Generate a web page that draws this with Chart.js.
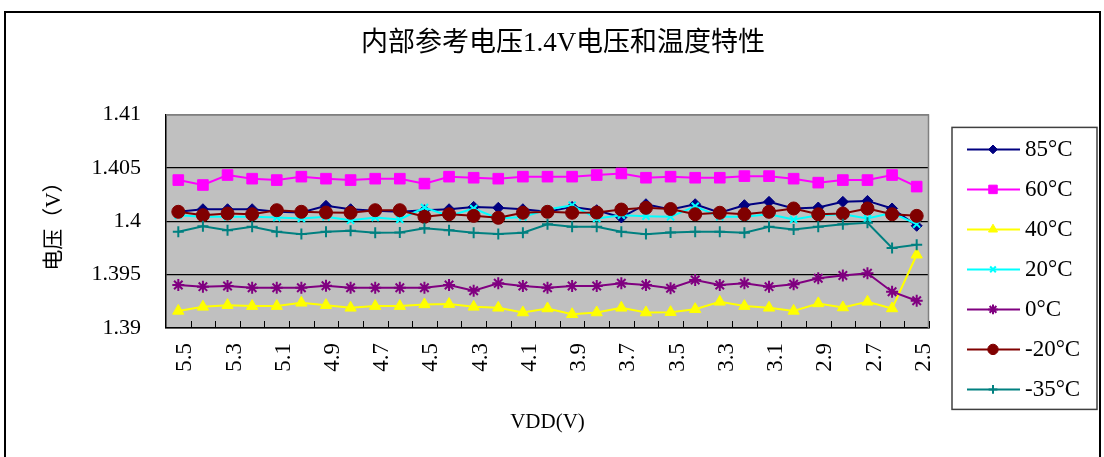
<!DOCTYPE html>
<html>
<head>
<meta charset="utf-8">
<script src="https://cdn.jsdelivr.net/npm/chart.js@4.4.0/dist/chart.umd.min.js"></script>
<style>
html, body { margin: 0; padding: 0; background: #fff; }
#wrap { position: relative; width: 1104px; height: 457px; }
</style>
</head>
<body>
<div id="wrap"><canvas id="vrefChart" width="1104" height="457"></canvas></div>
<script>
// VDD from 5.5 V down to 2.5 V in 0.1 V steps
const vddLabels = ['5.5','5.4','5.3','5.2','5.1','5.0','4.9','4.8','4.7','4.6','4.5','4.4','4.3','4.2','4.1','4.0',
                   '3.9','3.8','3.7','3.6','3.5','3.4','3.3','3.2','3.1','3.0','2.9','2.8','2.7','2.6','2.5'];
const yTickLabels = ['1.39', '1.395', '1.4', '1.405', '1.41'];
const seriesNames = ['85°C', '60°C', '40°C', '20°C', '0°C', '-20°C', '-35°C'];

const t85 = [1.40088,1.40112,1.40112,1.40112,1.40088,1.40081,1.40144,1.40112,1.40097,1.40088,1.40103,1.40112,1.40134,1.40125,1.40112,1.40088,
             1.40134,1.40103,1.40035,1.40159,1.40109,1.40159,1.40079,1.4015,1.40181,1.40119,1.40128,1.40181,1.4019,1.40119,1.39957];
const t60 = [1.40385,1.40339,1.40432,1.40398,1.40385,1.40417,1.40398,1.40385,1.40398,1.40398,1.40352,1.40417,1.40407,1.40398,1.40417,1.40417,
             1.40417,1.40432,1.40447,1.40407,1.40417,1.40407,1.40407,1.40422,1.40422,1.40398,1.40361,1.40385,1.40385,1.40432,1.40324];
const t40 = [1.3916,1.39198,1.39214,1.39205,1.39205,1.39236,1.39214,1.39189,1.39205,1.39205,1.39221,1.39224,1.39198,1.39189,1.39145,1.39183,
             1.39129,1.39145,1.39189,1.39145,1.39148,1.39176,1.39245,1.39205,1.39189,1.3916,1.3923,1.39192,1.39245,1.39183,1.39686];
const t20 = [1.40056,1.40041,1.40041,1.40041,1.40035,1.40025,1.40041,1.40009,1.40035,1.40016,1.40128,1.4005,1.40119,1.40025,1.4004,1.40109,
             1.4015,1.40025,1.40056,1.40047,1.40041,1.4014,1.40041,1.40041,1.40065,1.40016,1.40056,1.40065,1.40025,1.40079,1.39972];
const t0 = [1.39403,1.39387,1.39393,1.39377,1.39377,1.39377,1.39396,1.39377,1.39377,1.39377,1.39377,1.39403,1.39349,1.39419,1.39393,1.39377,
            1.39393,1.39393,1.39419,1.39403,1.39372,1.3945,1.39403,1.39419,1.39387,1.39409,1.39466,1.39491,1.39513,1.3934,1.39255];
const tm20 = [1.40088,1.40056,1.40072,1.40065,1.40103,1.40088,1.40081,1.40079,1.40103,1.40103,1.40041,1.40065,1.4005,1.40032,1.40079,1.40088,
              1.40079,1.40081,1.40109,1.40125,1.40114,1.40065,1.40079,1.40065,1.40088,1.40119,1.40065,1.40072,1.40119,1.40065,1.4005];
const tm35 = [1.39901,1.39953,1.39916,1.39948,1.39901,1.39879,1.39901,1.3991,1.39892,1.39894,1.39935,1.39916,1.39892,1.39879,1.39892,1.39972,
              1.39948,1.39948,1.39901,1.39879,1.39895,1.39901,1.39901,1.39892,1.39948,1.39922,1.39948,1.39972,1.39985,1.39749,1.3978];

const seriesData = [t85, t60, t40, t20, t0, tm20, tm35];
const colors = ['#000080', '#ff00ff', '#ffff00', '#00ffff', '#800080', '#800000', '#008080'];
const pointStyles = ['rectRot', 'rect', 'triangle', 'crossRot', 'star', 'circle', 'cross'];
const pointSizes = [5.5, 7.5, 6.5, 5, 6, 6.5, 5.5];
const pointBorders = [1, 1, 1, 2, 2, 1, 2];

const fontFamily = "'Liberation Serif', 'Noto Sans CJK SC', serif";

const datasets = seriesData.map(function (d, i) {
    return {
        label: seriesNames[i],
        data: d,
        yAxisID: 'y',
        borderColor: colors[i],
        backgroundColor: colors[i],
        pointBackgroundColor: colors[i],
        pointBorderColor: colors[i],
        pointStyle: pointStyles[i],
        pointRadius: pointSizes[i],
        pointBorderWidth: pointBorders[i],
        borderWidth: 2,
        tension: 0,
        order: 10 - i
    };
});

// plot background, frame, inward tick marks and the boxed legend
const excelLook = {
    id: 'excelLook',
    beforeDraw(chart) {
        const ctx = chart.ctx, a = chart.chartArea;
        ctx.save();
        ctx.fillStyle = '#fff';
        ctx.fillRect(0, 0, chart.width, chart.height);
        ctx.fillStyle = '#c0c0c0';
        ctx.fillRect(a.left, a.top, a.right - a.left, a.bottom - a.top);
        ctx.strokeStyle = '#000';
        ctx.lineWidth = 2;
        ctx.strokeRect(5, 12, 1095, 480);
        ctx.restore();
    },
    beforeDatasetsDraw(chart) {
        const ctx = chart.ctx, a = chart.chartArea;
        ctx.save();
        ctx.strokeStyle = '#808080';
        ctx.lineWidth = 1.5;
        ctx.beginPath();
        ctx.moveTo(a.left, a.top + 0.5);
        ctx.lineTo(a.right - 0.5, a.top + 0.5);
        ctx.lineTo(a.right - 0.5, a.bottom);
        ctx.stroke();
        ctx.restore();
    },
    afterDraw(chart) {
        const ctx = chart.ctx, a = chart.chartArea;
        const xs = chart.scales.x;
        const half = (xs.getPixelForValue(1) - xs.getPixelForValue(0)) / 2;
        ctx.save();
        ctx.strokeStyle = '#000';
        ctx.lineWidth = 1;
        ctx.beginPath();
        for (let i = 0; i < vddLabels.length; i++) {
            const px = Math.round(xs.getPixelForValue(i) + half) + 0.5;
            ctx.moveTo(px, a.bottom);
            ctx.lineTo(px, a.bottom - 7);
        }
        ctx.stroke();

        // legend box
        const bx = a.right + 23, by = a.top + 13, bw = 145, bh = 282;
        ctx.strokeStyle = '#404040';
        ctx.lineWidth = 1.5;
        ctx.strokeRect(bx, by, bw, bh);
        ctx.font = '23px ' + fontFamily;
        ctx.textBaseline = 'middle';
        ctx.textAlign = 'left';
        chart.data.datasets.forEach(function (ds, i) {
            const cy = by + 22 + i * 40;
            ctx.strokeStyle = ds.borderColor;
            ctx.lineWidth = 2;
            ctx.beginPath();
            ctx.moveTo(bx + 15, cy);
            ctx.lineTo(bx + 68, cy);
            ctx.stroke();
            ctx.fillStyle = ds.pointBackgroundColor;
            ctx.strokeStyle = ds.pointBorderColor;
            ctx.lineWidth = ds.pointBorderWidth;
            Chart.helpers.drawPoint(ctx, {
                pointStyle: ds.pointStyle,
                radius: ds.pointRadius * 0.8,
                borderWidth: ds.pointBorderWidth,
                rotation: 0
            }, bx + 41, cy);
            ctx.fillStyle = '#000';
            ctx.fillText(ds.label, bx + 73, cy + 1);
        });
        ctx.restore();
    }
};

new Chart(document.getElementById('vrefChart').getContext('2d'), {
    type: 'line',
    data: { labels: vddLabels, datasets: datasets },
    plugins: [excelLook],
    options: {
        responsive: false,
        animation: false,
        devicePixelRatio: 1,
        layout: { padding: { left: 22, right: 0, top: 0, bottom: 0 } },
        plugins: {
            legend: { display: false },
            tooltip: { enabled: false },
            title: {
                display: true,
                text: '内部参考电压1.4V电压和温度特性',
                color: '#000',
                font: { family: fontFamily, size: 27, weight: 'normal' },
                padding: { top: 28, bottom: 54 }
            }
        },
        scales: {
            x: {
                offset: true,
                afterFit: function (scale) { scale.height = 129; },
                grid: { display: false, drawTicks: false },
                border: { display: true, color: '#000', width: 1.5 },
                ticks: {
                    autoSkip: false,
                    maxRotation: 90,
                    minRotation: 90,
                    padding: 15,
                    labelOffset: 7,
                    color: '#000',
                    font: { family: fontFamily, size: 23 },
                    callback: function (val, index) { return index % 2 === 0 ? vddLabels[index] : ''; }
                },
                title: {
                    display: true,
                    text: 'VDD(V)',
                    color: '#000',
                    font: { family: fontFamily, size: 21 },
                    padding: { top: 0, bottom: 22 }
                }
            },
            y: {
                min: 1.39,
                max: 1.41,
                afterFit: function (scale) { scale.width = 144; },
                grid: {
                    drawTicks: false,
                    color: function (c) { return c.index === yTickLabels.length - 1 ? '#808080' : '#000'; },
                    lineWidth: 1.2
                },
                border: { display: true, color: '#000', width: 1.5 },
                ticks: {
                    stepSize: 0.005,
                    padding: 25,
                    color: '#000',
                    font: { family: fontFamily, size: 22 },
                    callback: function (val, index) { return yTickLabels[index]; }
                },
                title: {
                    display: true,
                    text: '电压（V）',
                    color: '#000',
                    font: { family: fontFamily, size: 21 },
                    padding: { top: 20, bottom: 0 }
                }
            },
            // empty right-hand axis that keeps room for the legend box
            legendRoom: {
                type: 'linear',
                position: 'right',
                display: true,
                afterFit: function (scale) { scale.width = 175; },
                grid: { display: false, drawTicks: false },
                border: { display: false },
                ticks: { display: false }
            }
        }
    }
});
</script>
</body>
</html>
